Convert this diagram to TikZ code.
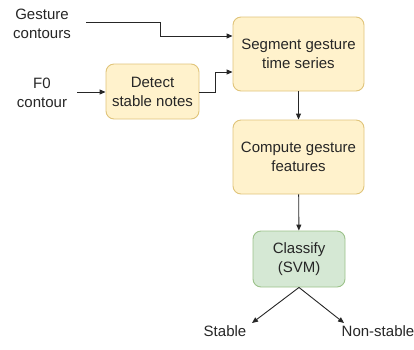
\documentclass[tikz,border=0pt]{standalone}
\usepackage{fontspec}
\setmainfont{Liberation Sans}
\usetikzlibrary{arrows.meta}
\definecolor{yfill}{HTML}{FFF2CC}
\definecolor{ydraw}{HTML}{E0C47A}
\definecolor{gfill}{HTML}{D5E8D4}
\definecolor{gdraw}{HTML}{9CC28A}
\definecolor{ink}{HTML}{262626}
\begin{document}
\begin{tikzpicture}[x=1pt,y=-1pt,
  every node/.style={font=\fontsize{15}{19}\selectfont, text=ink, align=center, inner sep=0pt},
  ybox/.style={draw=ydraw, fill=yfill, rounded corners=8pt, line width=0.9pt},
  gbox/.style={draw=gdraw, fill=gfill, rounded corners=8pt, line width=0.9pt},
  flow/.style={draw=ink, line width=0.9pt, -{Triangle[length=6pt,width=5pt]}}]
\useasboundingbox (0,0) rectangle (414,349);
% boxes
\node[ybox, minimum width=131pt, minimum height=74pt] (seg) at (298.5,54) {Segment gesture\\time series};
\node[ybox, minimum width=93pt, minimum height=55pt] (det) at (152.5,91.5) {Detect\\stable notes};
\node[ybox, minimum width=131pt, minimum height=74pt] (comp) at (298.5,157) {Compute gesture\\features};
\node[gbox, minimum width=92pt, minimum height=56pt] (cls) at (299,259) {Classify\\(SVM)};
% plain labels
\node (gc) at (42,24) {Gesture\\contours};
\node (f0) at (42,93) {F0\\contour};
\node (st) at (225,331) {Stable};
\node (ns) at (378,331) {Non-stable};
\coordinate (gcend) at (86,22);
\coordinate (f0end) at (77,92);
\coordinate (stt) at (252,323);
\coordinate (nst) at (344,323);
% connectors
\draw[flow] (gcend) -| (160,36) -- (seg.west |- 0,36);
\draw[flow] (f0end) -- (det.west |- f0end);
\draw[flow] (det.east |- 0,92) -| (215,72) -- (seg.west |- 0,72);
\draw[flow] (seg) -- (comp);
\draw[flow] (comp) -- (cls);
\draw[flow] (cls.south) -- (stt);
\draw[flow] (cls.south) -- (nst);
\end{tikzpicture}
\end{document}
